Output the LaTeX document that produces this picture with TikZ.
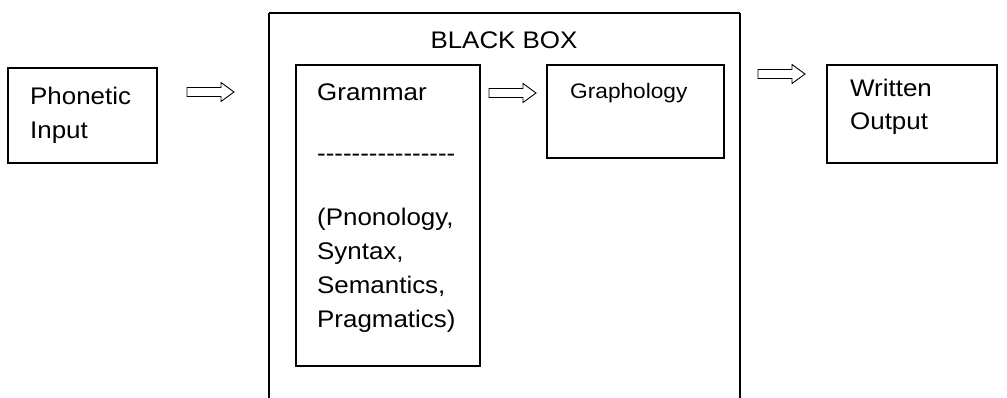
\documentclass[tikz,border=0pt]{standalone}
\usepackage{fontspec}
\setmainfont{Liberation Sans}[FakeStretch=1.08]
\begin{document}
\begin{tikzpicture}[x=1pt,y=-1pt,
  boxframe/.style={draw=black,line width=1.2pt},
  lbl/.style={inner sep=0pt,anchor=base west,font=\fontsize{24}{33}\selectfont},
  smalllbl/.style={inner sep=0pt,anchor=base west,font=\fontsize{21}{28}\selectfont},
  hollowarrow/.style={draw=black,line width=0.9pt,fill=white,line join=miter}]
\useasboundingbox (0,0) rectangle (1007,398);
\fill[white] (0,0) rectangle (1007,398);
% boxes
\draw[boxframe] (8,68) rectangle (157,163);
\coordinate (phon) at (8,68);
\draw[boxframe] (269,13) -- (269,420) (740,13) -- (740,420) (269,13) -- (740,13);
\coordinate (bb) at (269,13);
\draw[boxframe] (296,65) rectangle (480,366);
\coordinate (gram) at (296,65);
\draw[boxframe] (547,65) rectangle (724,158);
\coordinate (graph) at (547,65);
\draw[boxframe] (827,65) rectangle (997,163);
\coordinate (writ) at (827,65);
% texts
\node[lbl,anchor=base] (tbb) at (504,49) {BLACK BOX};
\node[lbl] (tphon1) at (30,105) {Phonetic};
\node[lbl] (tphon2) at (30,139) {Input};
\node[lbl] (tgram) at (317,101) {Grammar};
\node[lbl] (tdash) at (317,162) {-{}-{}-{}-{}-{}-{}-{}-{}-{}-{}-{}-{}-{}-{}-{}-};
\node[lbl] (tg1) at (317,226) {(Pnonology,};
\node[lbl] (tg2) at (317,259) {Syntax,};
\node[lbl] (tg3) at (317,293) {Semantics,};
\node[lbl] (tg4) at (317,327) {Pragmatics)};
\node[smalllbl] (tgraph) at (570,99) {Graphology};
\node[lbl] (tw1) at (850,97) {Written};
\node[lbl] (tw2) at (850,130) {Output};
% hollow block arrows
\coordinate (a1) at (187,92);
\coordinate (a2) at (489,93);
\coordinate (a3) at (758,74);
\foreach \c in {a1,a2,a3}{
  \draw[hollowarrow] (\c) ++(0,-4.5) -- ++(34,0) -- ++(0,-5) -- ++(13,9.5)
    -- ++(-13,9.5) -- ++(0,-5) -- ++(-34,0) -- cycle;
}
\end{tikzpicture}
\end{document}
